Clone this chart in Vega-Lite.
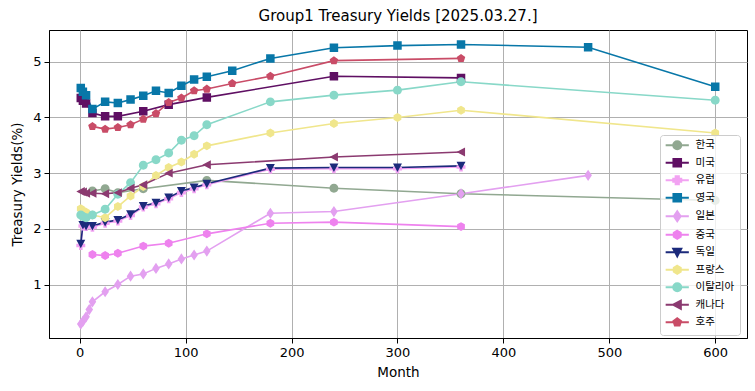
{
  "$schema": "https://vega.github.io/schema/vega-lite/v6.json",
  "width": 698,
  "height": 308,
  "autosize": {"type": "none"},
  "padding": {"left": 49, "top": 30, "right": 8, "bottom": 53},
  "background": "white",
  "title": {"text": "Group1 Treasury Yields [2025.03.27.]", "font": "DejaVu Sans", "fontSize": 15, "fontWeight": "normal", "color": "black", "offset": 6, "anchor": "middle"},
  "config": {
    "view": {"stroke": "black", "strokeWidth": 1},
    "axis": {"grid": true, "gridColor": "#b0b0b0", "gridWidth": 1, "domainColor": "black", "domainWidth": 1, "tickColor": "black", "tickSize": 5, "tickWidth": 1, "labelFont": "DejaVu Sans", "labelFontSize": 13, "labelColor": "black", "labelPadding": 3, "titleFont": "DejaVu Sans", "titleFontSize": 13.5, "titleFontWeight": "normal", "titleColor": "black"}
  },
  "data": {"values": [
    {"c":"한국","m":12,"y":2.68},{"c":"한국","m":24,"y":2.72},{"c":"한국","m":36,"y":2.65},{"c":"한국","m":60,"y":2.72},{"c":"한국","m":120,"y":2.87},{"c":"한국","m":240,"y":2.73},{"c":"한국","m":360,"y":2.63},{"c":"한국","m":600,"y":2.51},
    {"c":"미국","m":1,"y":4.35},{"c":"미국","m":3,"y":4.30},{"c":"미국","m":6,"y":4.25},{"c":"미국","m":12,"y":4.08},{"c":"미국","m":24,"y":4.02},{"c":"미국","m":36,"y":4.02},{"c":"미국","m":60,"y":4.11},{"c":"미국","m":84,"y":4.23},{"c":"미국","m":120,"y":4.36},{"c":"미국","m":240,"y":4.74},{"c":"미국","m":360,"y":4.71},
    {"c":"유럽","m":1,"y":1.70},{"c":"유럽","m":3,"y":2.05},{"c":"유럽","m":6,"y":2.04},{"c":"유럽","m":12,"y":2.03},{"c":"유럽","m":24,"y":2.10},{"c":"유럽","m":36,"y":2.14},{"c":"유럽","m":48,"y":2.24},{"c":"유럽","m":60,"y":2.39},{"c":"유럽","m":72,"y":2.45},{"c":"유럽","m":84,"y":2.54},{"c":"유럽","m":96,"y":2.65},{"c":"유럽","m":108,"y":2.72},{"c":"유럽","m":120,"y":2.79},{"c":"유럽","m":180,"y":3.07},{"c":"유럽","m":240,"y":3.08},{"c":"유럽","m":300,"y":3.08},{"c":"유럽","m":360,"y":3.11},
    {"c":"영국","m":1,"y":4.53},{"c":"영국","m":3,"y":4.46},{"c":"영국","m":6,"y":4.40},{"c":"영국","m":12,"y":4.15},{"c":"영국","m":24,"y":4.28},{"c":"영국","m":36,"y":4.26},{"c":"영국","m":48,"y":4.32},{"c":"영국","m":60,"y":4.39},{"c":"영국","m":72,"y":4.48},{"c":"영국","m":84,"y":4.44},{"c":"영국","m":96,"y":4.57},{"c":"영국","m":108,"y":4.68},{"c":"영국","m":120,"y":4.73},{"c":"영국","m":144,"y":4.84},{"c":"영국","m":180,"y":5.06},{"c":"영국","m":240,"y":5.25},{"c":"영국","m":300,"y":5.29},{"c":"영국","m":360,"y":5.31},{"c":"영국","m":480,"y":5.26},{"c":"영국","m":600,"y":4.55},
    {"c":"일본","m":1,"y":0.29},{"c":"일본","m":3,"y":0.34},{"c":"일본","m":6,"y":0.42},{"c":"일본","m":9,"y":0.55},{"c":"일본","m":12,"y":0.69},{"c":"일본","m":24,"y":0.87},{"c":"일본","m":36,"y":1.00},{"c":"일본","m":48,"y":1.15},{"c":"일본","m":60,"y":1.19},{"c":"일본","m":72,"y":1.29},{"c":"일본","m":84,"y":1.37},{"c":"일본","m":96,"y":1.46},{"c":"일본","m":108,"y":1.53},{"c":"일본","m":120,"y":1.60},{"c":"일본","m":180,"y":2.28},{"c":"일본","m":240,"y":2.31},{"c":"일본","m":360,"y":2.63},{"c":"일본","m":480,"y":2.96},
    {"c":"중국","m":12,"y":1.54},{"c":"중국","m":24,"y":1.52},{"c":"중국","m":36,"y":1.56},{"c":"중국","m":60,"y":1.69},{"c":"중국","m":84,"y":1.74},{"c":"중국","m":120,"y":1.91},{"c":"중국","m":180,"y":2.10},{"c":"중국","m":240,"y":2.12},{"c":"중국","m":360,"y":2.04},
    {"c":"독일","m":1,"y":1.73},{"c":"독일","m":3,"y":2.07},{"c":"독일","m":6,"y":2.05},{"c":"독일","m":12,"y":2.05},{"c":"독일","m":24,"y":2.12},{"c":"독일","m":36,"y":2.16},{"c":"독일","m":48,"y":2.26},{"c":"독일","m":60,"y":2.41},{"c":"독일","m":72,"y":2.47},{"c":"독일","m":84,"y":2.56},{"c":"독일","m":96,"y":2.68},{"c":"독일","m":108,"y":2.74},{"c":"독일","m":120,"y":2.81},{"c":"독일","m":180,"y":3.09},{"c":"독일","m":240,"y":3.10},{"c":"독일","m":300,"y":3.10},{"c":"독일","m":360,"y":3.13},
    {"c":"프랑스","m":1,"y":2.36},{"c":"프랑스","m":3,"y":2.33},{"c":"프랑스","m":6,"y":2.30},{"c":"프랑스","m":12,"y":2.25},{"c":"프랑스","m":24,"y":2.20},{"c":"프랑스","m":36,"y":2.40},{"c":"프랑스","m":48,"y":2.59},{"c":"프랑스","m":60,"y":2.76},{"c":"프랑스","m":72,"y":2.96},{"c":"프랑스","m":84,"y":3.10},{"c":"프랑스","m":96,"y":3.20},{"c":"프랑스","m":108,"y":3.34},{"c":"프랑스","m":120,"y":3.49},{"c":"프랑스","m":180,"y":3.72},{"c":"프랑스","m":240,"y":3.89},{"c":"프랑스","m":300,"y":4.00},{"c":"프랑스","m":360,"y":4.13},{"c":"프랑스","m":600,"y":3.72},
    {"c":"이탈리아","m":1,"y":2.25},{"c":"이탈리아","m":3,"y":2.22},{"c":"이탈리아","m":6,"y":2.20},{"c":"이탈리아","m":12,"y":2.25},{"c":"이탈리아","m":24,"y":2.35},{"c":"이탈리아","m":36,"y":2.62},{"c":"이탈리아","m":48,"y":2.83},{"c":"이탈리아","m":60,"y":3.14},{"c":"이탈리아","m":72,"y":3.24},{"c":"이탈리아","m":84,"y":3.36},{"c":"이탈리아","m":96,"y":3.59},{"c":"이탈리아","m":108,"y":3.67},{"c":"이탈리아","m":120,"y":3.87},{"c":"이탈리아","m":180,"y":4.28},{"c":"이탈리아","m":240,"y":4.40},{"c":"이탈리아","m":300,"y":4.49},{"c":"이탈리아","m":360,"y":4.64},{"c":"이탈리아","m":600,"y":4.31},
    {"c":"캐나다","m":1,"y":2.67},{"c":"캐나다","m":3,"y":2.66},{"c":"캐나다","m":6,"y":2.64},{"c":"캐나다","m":12,"y":2.64},{"c":"캐나다","m":24,"y":2.63},{"c":"캐나다","m":36,"y":2.65},{"c":"캐나다","m":48,"y":2.73},{"c":"캐나다","m":60,"y":2.79},{"c":"캐나다","m":84,"y":3.00},{"c":"캐나다","m":120,"y":3.15},{"c":"캐나다","m":240,"y":3.29},{"c":"캐나다","m":360,"y":3.38},
    {"c":"호주","m":12,"y":3.84},{"c":"호주","m":24,"y":3.79},{"c":"호주","m":36,"y":3.82},{"c":"호주","m":48,"y":3.87},{"c":"호주","m":60,"y":3.97},{"c":"호주","m":72,"y":4.07},{"c":"호주","m":84,"y":4.27},{"c":"호주","m":96,"y":4.35},{"c":"호주","m":108,"y":4.48},{"c":"호주","m":120,"y":4.51},{"c":"호주","m":144,"y":4.61},{"c":"호주","m":180,"y":4.74},{"c":"호주","m":240,"y":5.02},{"c":"호주","m":360,"y":5.06}
  ]},
  "encoding": {
    "x": {"field": "m", "type": "quantitative", "scale": {"domain": [-29, 630], "nice": false, "zero": false}, "axis": {"values": [0, 100, 200, 300, 400, 500, 600], "title": "Month", "titlePadding": 6}},
    "y": {"field": "y", "type": "quantitative", "scale": {"domain": [0.04, 5.57], "nice": false, "zero": false}, "axis": {"values": [1, 2, 3, 4, 5], "title": "Treasury Yields(%)", "titlePadding": 8}},
    "color": {"field": "c", "type": "nominal", "sort": null,
      "scale": {"domain": ["한국","미국","유럽","영국","일본","중국","독일","프랑스","이탈리아","캐나다","호주"],
                "range": ["#91a891","#5f0f63","#f2a2f2","#0877a8","#e3a0f0","#ee82ee","#1b2a7b","#f0e68c","#88d8c8","#8b3a70","#c94c67"]},
      "legend": {"orient": "none", "legendX": 611, "legendY": 105, "title": null, "fillColor": "rgba(255,255,255,0.8)", "strokeColor": "#cccccc", "cornerRadius": 3, "padding": 5, "labelFont": "DejaVu Sans, Noto Sans CJK KR", "labelFontSize": 10.5, "labelColor": "black", "labelOffset": 13, "symbolSize": 64, "symbolOffset": 7, "rowPadding": 0.5, "symbolOpacity": 1,
        "encode": {"symbols": {"update": {"stroke": {"scale": "color", "field": "value"}, "strokeWidth": {"value": 2}}}}}
    }
  },
  "layer": [
    {"mark": {"type": "line", "strokeWidth": 1.6}},
    {"mark": {"type": "point", "filled": true, "opacity": 1, "size": 80},
     "encoding": {"shape": {"field": "c", "type": "nominal", "sort": null,
       "scale": {"domain": ["한국","미국","유럽","영국","일본","중국","독일","프랑스","이탈리아","캐나다","호주"],
         "range": [
           "M-2.9,0H2.9M1,0A1,1,0,1,1,-1,0A1,1,0,1,1,1,0Z",
           "M-2.9,0H2.9M-0.95,-0.95H0.95V0.95H-0.95Z",
           "M-2.9,0H2.9M-0.4,-1H0.4V-0.4H1V0.4H0.4V1H-0.4V0.4H-1V-0.4H-0.4Z",
           "M-2.9,0H2.9M-0.95,-0.95H0.95V0.95H-0.95Z",
           "M-2.9,0H2.9M0,-1.25L0.85,0L0,1.25L-0.85,0Z",
           "M-2.9,0H2.9M0,-1L0.866,-0.5L0.866,0.5L0,1L-0.866,0.5L-0.866,-0.5Z",
           "M-2.9,0H2.9M-1,-0.9H1L0,1Z",
           "M-2.9,0H2.9M0,-1L0.866,-0.5L0.866,0.5L0,1L-0.866,0.5L-0.866,-0.5Z",
           "M-2.9,0H2.9M1,0A1,1,0,1,1,-1,0A1,1,0,1,1,1,0Z",
           "M-2.9,0H2.9M-1,0L0.9,-1L0.9,1Z",
           "M-2.9,0H2.9M0,-1L0.951,-0.309L0.588,0.809L-0.588,0.809L-0.951,-0.309Z"
         ]}, "legend": null}}}
  ]
}
